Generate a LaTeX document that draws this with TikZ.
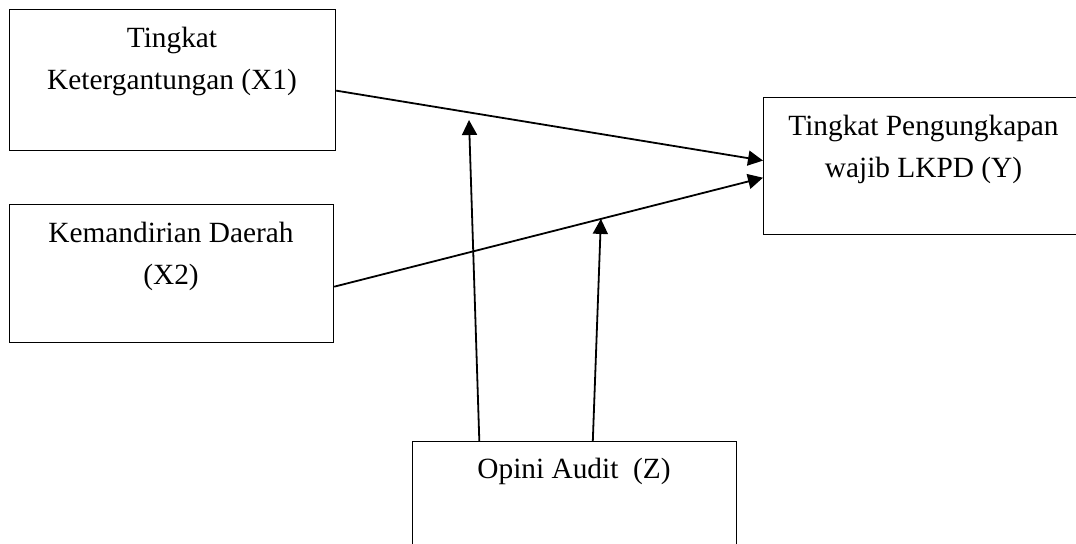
\documentclass[tikz,border=0pt]{standalone}
\usepackage{fontspec}
\setmainfont{Liberation Serif}
\usetikzlibrary{arrows.meta,calc}
\begin{document}
\begin{tikzpicture}[x=0.5pt,y=-0.5pt,
  boxnode/.style={draw=black,line width=0.6pt,rectangle,anchor=north west,inner sep=0pt},
  boxtext/.style={anchor=north,inner sep=0pt,align=center,font=\fontsize{14.67pt}{21pt}\selectfont},
  arr/.style={line width=0.9pt,-{Triangle[length=7.5pt,width=7.5pt]}}]
\useasboundingbox (0,0) rectangle (1076,543);
\clip (0,0) rectangle (1076,543);
\fill[white] (0,0) rectangle (1076,543);
% boxes
\node[boxnode,minimum width=163pt,minimum height=70.5pt] (x1) at (9,9) {};
\node[boxnode,minimum width=162pt,minimum height=69pt] (x2) at (9,204) {};
\node[boxnode,minimum width=160.5pt,minimum height=68.5pt] (y) at (763,97) {};
\node[boxnode,minimum width=162pt,minimum height=60pt] (z) at (412,441) {};
% texts
\node[boxtext] (tx1) at (172,27) {Tingkat\\Ketergantungan (X1)};
\node[boxtext] (tx2) at (171,222) {Kemandirian Daerah\\(X2)};
\node[boxtext] (ty) at (923.5,115) {Tingkat Pengungkapan\\wajib LKPD (Y)};
\node[boxtext] (tz) at (574,458) {Opini Audit~~(Z)};
% connectors
\coordinate (s1) at ($(x1.north east)!0.574!(x1.south east)$);
\coordinate (e1) at ($(y.north west)!0.46!(y.south west)$);
\coordinate (s2) at ($(x2.north east)!0.594!(x2.south east)$);
\coordinate (e2) at ($(y.north west)!0.584!(y.south west)$);
\draw[arr] (s1) -- (e1);
\draw[arr] (s2) -- (e2);
\coordinate (zs1) at ($(z.north west)!0.207!(z.north east)$);
\coordinate (zs2) at ($(z.north west)!0.556!(z.north east)$);
\coordinate (t1) at (469,120);
\coordinate (t2) at ($(s2)!0.622!(e2)$);
\draw[arr] (zs1) -- (t1);
\draw[arr] (zs2) -- (t2);
\end{tikzpicture}
\end{document}
